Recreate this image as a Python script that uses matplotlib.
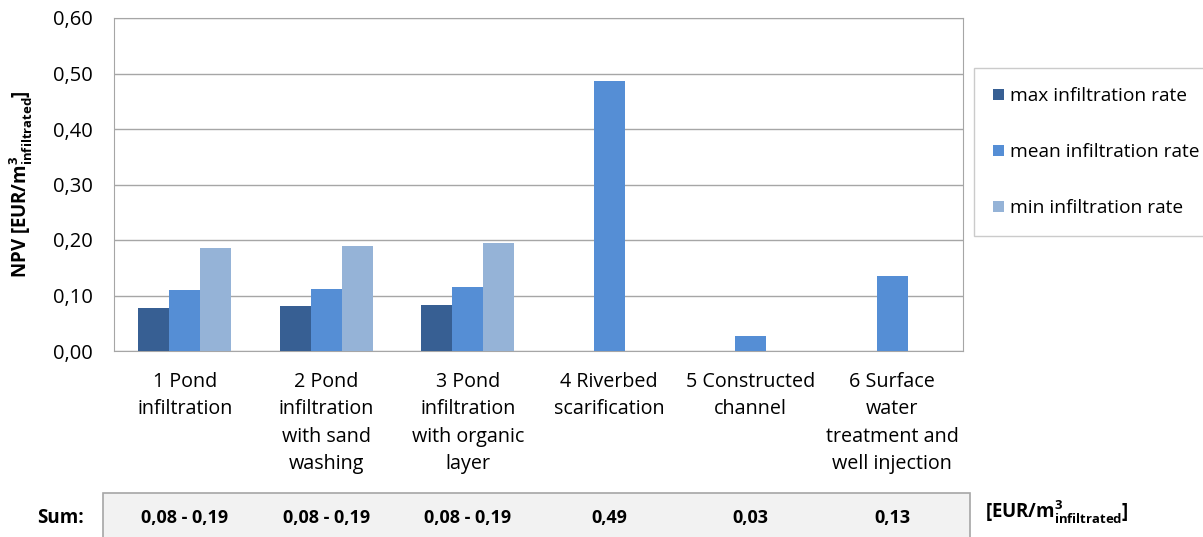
import numpy as np
import matplotlib.pyplot as plt
import matplotlib.transforms as mtransforms
from matplotlib.patches import Rectangle

plt.rcParams['font.family'] = ['Open Sans', 'DejaVu Sans']
plt.rcParams['mathtext.fontset'] = 'custom'
plt.rcParams['mathtext.rm'] = 'Open Sans'
plt.rcParams['mathtext.bf'] = 'Open Sans:bold'

categories = ["1 Pond\ninfiltration",
              "2 Pond\ninfiltration\nwith sand\nwashing",
              "3 Pond\ninfiltration\nwith organic\nlayer",
              "4 Riverbed\nscarification",
              "5 Constructed\nchannel",
              "6 Surface\nwater\ntreatment and\nwell injection"]
max_rate = [0.077, 0.081, 0.083, 0, 0, 0]
mean_rate = [0.110, 0.112, 0.115, 0.487, 0.027, 0.135]
min_rate = [0.186, 0.190, 0.195, 0, 0, 0]
sums = ["0,08 - 0,19", "0,08 - 0,19", "0,08 - 0,19", "0,49", "0,03", "0,13"]
yticks = [0.0, 0.1, 0.2, 0.3, 0.4, 0.5, 0.6]

colors = ["#375F93", "#558ED5", "#95B3D7"]
labels = ["max infiltration rate", "mean infiltration rate", "min infiltration rate"]

fig = plt.figure(figsize=(12.03, 5.37), dpi=100)
ax = fig.add_axes([114 / 1203, 1 - 351 / 537, 849 / 1203, 333 / 537])

x = np.arange(len(categories))
w = 0.22
for i, vals in enumerate([max_rate, mean_rate, min_rate]):
    ax.bar(x + (i - 1) * w, vals, w, color=colors[i], label=labels[i], zorder=3)

ax.set_xlim(-0.5, len(categories) - 0.5)
ax.set_ylim(0, 0.6)
ax.set_yticks(yticks)
ax.set_yticklabels([f"{v:.2f}".replace(".", ",") for v in yticks], fontsize=14.5)
ax.set_xticks(x)
ax.set_xticklabels(categories, fontsize=14.2, linespacing=1.5, va="top")
ax.tick_params(axis="y", length=0, pad=15)
ax.tick_params(axis="x", length=0, pad=15)
ax.yaxis.grid(True, color="#A6A6A6", linewidth=1, zorder=0)
for s in ax.spines.values():
    s.set_color("#A6A6A6")
ax.set_ylabel(r"NPV [EUR/m$^\mathbf{3}_\mathbf{infiltrated}$]", fontsize=13.5,
              fontweight="bold")
ax.yaxis.set_label_coords(-0.094, 0.5)

leg = ax.legend(loc="upper left", bbox_to_anchor=(974 / 1203, 1 - 68 / 537),
                bbox_transform=fig.transFigure, fontsize=13.8, frameon=True,
                fancybox=False, edgecolor="#BFBFBF", handlelength=0.55,
                handleheight=0.55, labelspacing=1.98, borderpad=1.0,
                handletextpad=0.35, borderaxespad=0)
leg.get_frame().set_linewidth(1)

# Sum table under the chart
fig.patches.append(Rectangle((103 / 1203, -0.01), 867 / 1203, 44 / 537 + 0.01,
                             transform=fig.transFigure, facecolor="#F2F2F2",
                             edgecolor="#A6A6A6", linewidth=1.2, zorder=0))
trans = mtransforms.blended_transform_factory(ax.transData, fig.transFigure)
yrow = 1 - 518 / 537
for xi, s in zip(x, sums):
    fig.text(xi, yrow, s, transform=trans, ha="center", va="center",
             fontsize=13, fontweight="bold")
fig.text(60 / 1203, yrow, "Sum:", ha="center", va="center", fontsize=13.5,
         fontweight="bold")
fig.text(985 / 1203, yrow + 0.012, r"[EUR/m$^\mathbf{3}_\mathbf{infiltrated}$]",
         ha="left", va="center", fontsize=13.5, fontweight="bold")

fig.savefig("out.png", dpi=100)
